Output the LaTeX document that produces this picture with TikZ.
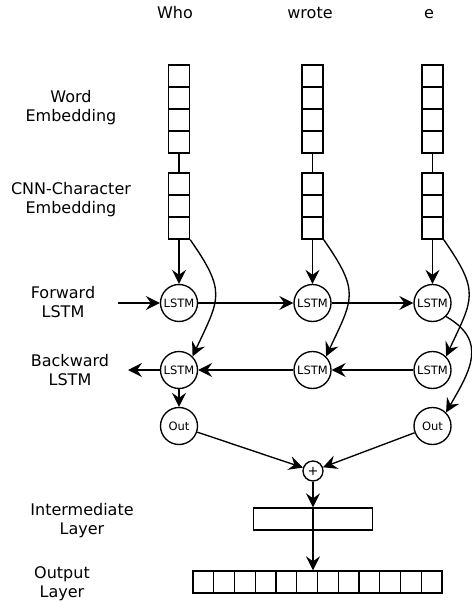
\documentclass[tikz,border=0pt]{standalone}
\usepackage{fontspec}
\setmainfont{DejaVu Sans}
\usepackage{tikz}
\usetikzlibrary{arrows.meta,positioning}

\tikzset{
  cell/.style={rectangle, draw=black, minimum width=21pt, minimum height=22pt, inner sep=0pt},
  lstm/.style={circle, draw=black, minimum size=37pt, inner sep=0pt, font=\fontsize{11.5}{13}\selectfont},
  sumnode/.style={circle, draw=black, minimum size=20pt, inner sep=0pt, font=\fontsize{13}{13}\selectfont},
  toplabel/.style={anchor=base, font=\fontsize{16}{19}\selectfont},
  sidelabel/.style={align=center, font=\fontsize{16}{19}\selectfont},
  skipcurve/.style={out=-55, in=65, looseness=1.4}
}

\begin{document}
\begin{tikzpicture}[x=1pt, y=-1pt, line width=1.35pt, >={Stealth[length=14pt, width=14pt, inset=5pt]}]
\useasboundingbox (0,0) rectangle (471,601);

\node (who) [toplabel] at (175,19) {Who};
\node (wrote) [toplabel] at (310,19) {wrote};
\node (e) [toplabel] at (429,19) {e};

\node (wordlbl) [sidelabel] at (71,108) {Word\\Embedding};
\node (cnnlbl) [sidelabel] at (71,200) {CNN-Character\\Embedding};
\node (fwdlbl) [sidelabel] at (63,302) {Forward\\LSTM};
\node (bwdlbl) [sidelabel] at (70,370) {Backward\\LSTM};
\node (interlbl) [sidelabel] at (82,521) {Intermediate\\Layer};
\node (outlbl) [sidelabel] at (62,584) {Output\\Layer};

\foreach \c/\x in {1/179, 2/312.5, 3/432.5} {
  \foreach \r in {1,...,4} \node (w\c-\r) [cell] at (\x, 54+22*\r) {};
  \foreach \r in {1,...,3} \node (c\c-\r) [cell] at (\x, 162+22*\r) {};
  \node (f\c) [lstm] at (\x,303) {LSTM};
  \node (b\c) [lstm] at (\x,370) {LSTM};
  \draw (w\c-4.south) -- (c\c-1.north);
  \draw[->] (c\c-3.south) -- (f\c);
  \draw[->] (c\c-3.south east) to[skipcurve] (b\c.north east);
}

\node (o1) [lstm] at (179,426) {Out};
\node (o3) [lstm] at (432.5,426) {Out};
\node (plus) [sumnode] at (313,471) {+};
\node (inter) [rectangle, draw=black, minimum width=119pt, minimum height=22pt, inner sep=0pt] at (313,519) {};
\foreach \k in {1,...,12} \node (oc\k) [cell, minimum width=20.75pt] at (182.625+20.75*\k, 582) {};

\coordinate (fin) at (118,303);
\coordinate (bout) at (128,370);

\draw[->] (fin) -- (f1);
\draw[->] (f1) -- (f2);
\draw[->] (f2) -- (f3);
\draw[->] (b3) -- (b2);
\draw[->] (b2) -- (b1);
\draw[->] (b1) -- (bout);
\draw[->] (b1) -- (o1);
\draw[->] (f3.south east) to[out=-30, in=60, looseness=1.3] (o3.north east);
\draw[->] (o1) -- (plus);
\draw[->] (o3) -- (plus);
\draw[->] (plus) -- (inter.north);
\draw[->] (inter.north) -- (inter.north |- oc6.north);

\end{tikzpicture}
\end{document}
